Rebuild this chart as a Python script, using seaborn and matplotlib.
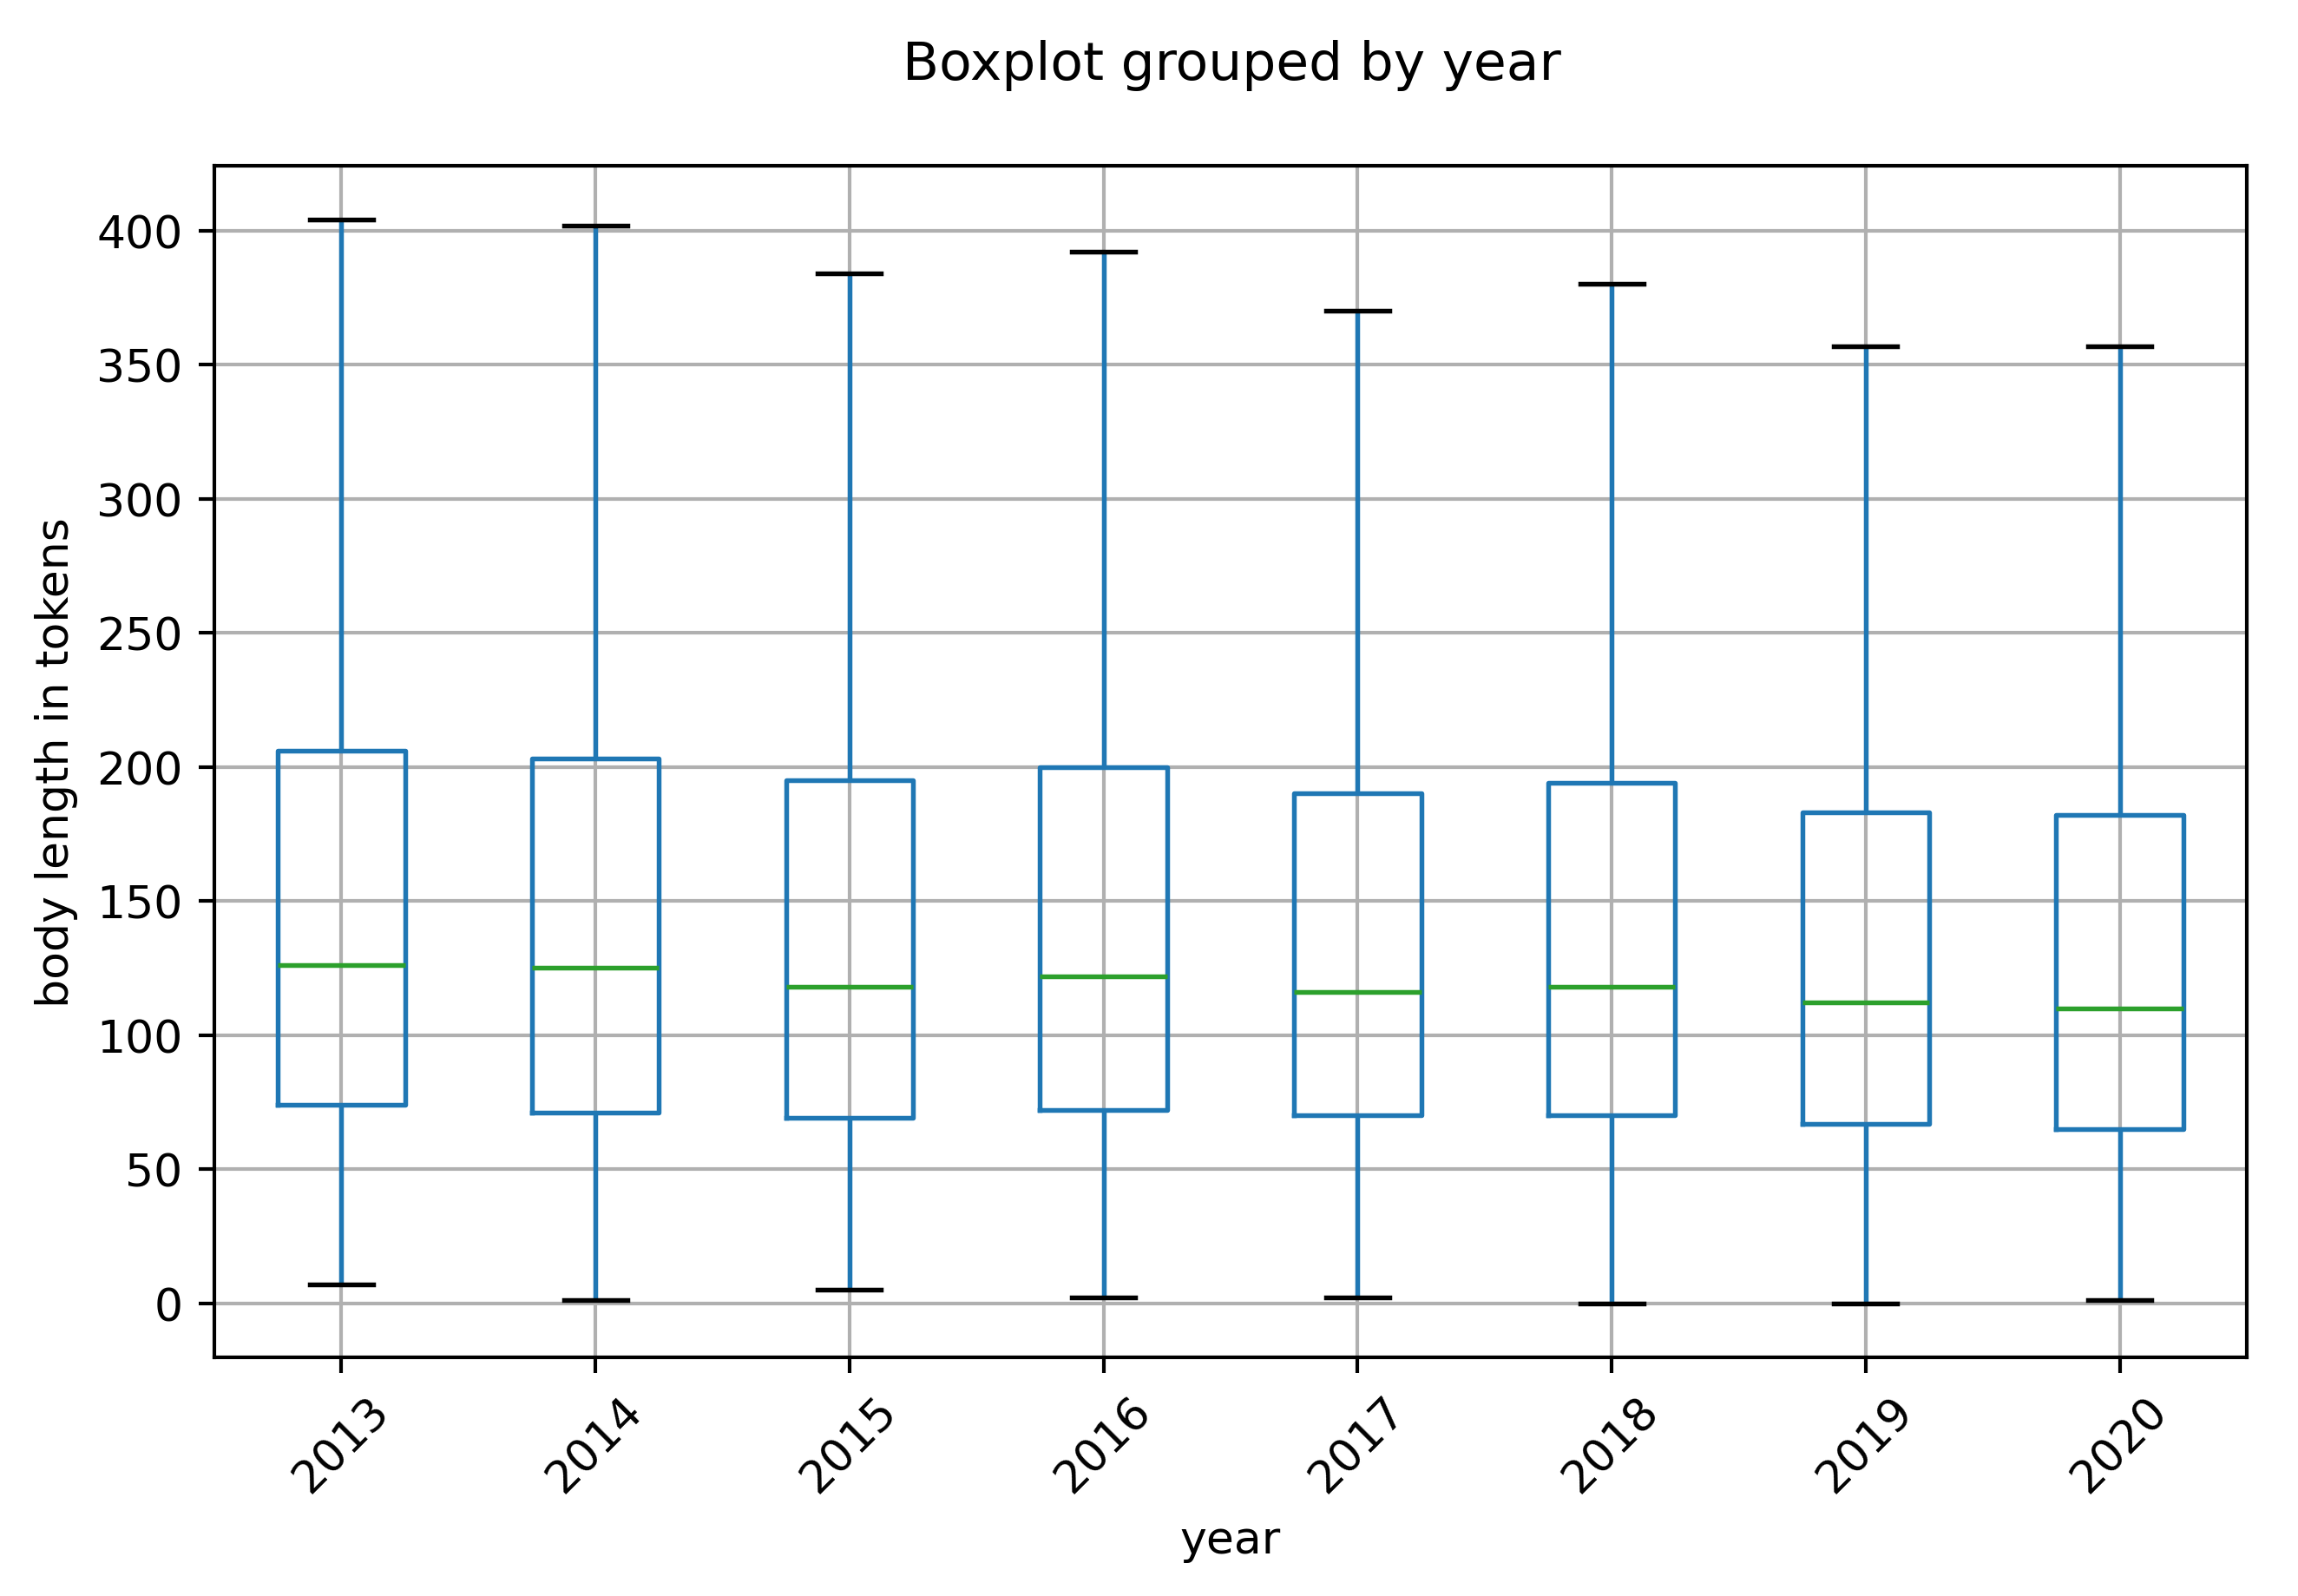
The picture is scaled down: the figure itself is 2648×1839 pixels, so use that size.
import pandas as pd
import seaborn as sns
import matplotlib.pyplot as plt

# summary values (tokens per body)
years = [2013, 2014, 2015, 2016, 2017, 2018, 2019, 2020]
lower = [7, 1, 5, 2, 2, 0, 0, 1]
q1 = [74, 71, 69, 72, 70, 70, 67, 65]
median = [126, 125, 118, 122, 116, 118, 112, 110]
q3 = [206, 203, 195, 200, 190, 194, 183, 182]
upper = [404, 402, 384, 392, 370, 380, 357, 357]

# five points per year -> quartiles land exactly on the values above
rows = []
for i, y in enumerate(years):
    for v in (lower[i], q1[i], median[i], q3[i], upper[i]):
        rows.append({'year': y, 'tokens': v})
df = pd.DataFrame(rows)

dpi = 375
fig = plt.figure(figsize=(2648 / dpi, 1840 / dpi), dpi=dpi)
ax = fig.add_axes([0.0933, 0.1495, 0.8844, 0.7462])

sns.boxplot(data=df, x='year', y='tokens', width=0.5, fill=False,
            color='#1f77b4', linewidth=1.05, whis=(0, 100), showfliers=False,
            medianprops=dict(color='#2ca02c'), capprops=dict(color='black'),
            ax=ax)

ax.grid(True, color='#b0b0b0', linewidth=0.8)
ax.set_xlabel('year', fontsize=10)
ax.set_ylabel('body length in tokens', fontsize=10)
ax.tick_params(axis='x', rotation=45)
ax.set_xlim(-0.5, len(years) - 0.5)

fig.text(0.536, 0.95, 'Boxplot grouped by year', ha='center', va='baseline',
         fontsize=11.8)

fig.savefig('out.png', dpi=dpi)
